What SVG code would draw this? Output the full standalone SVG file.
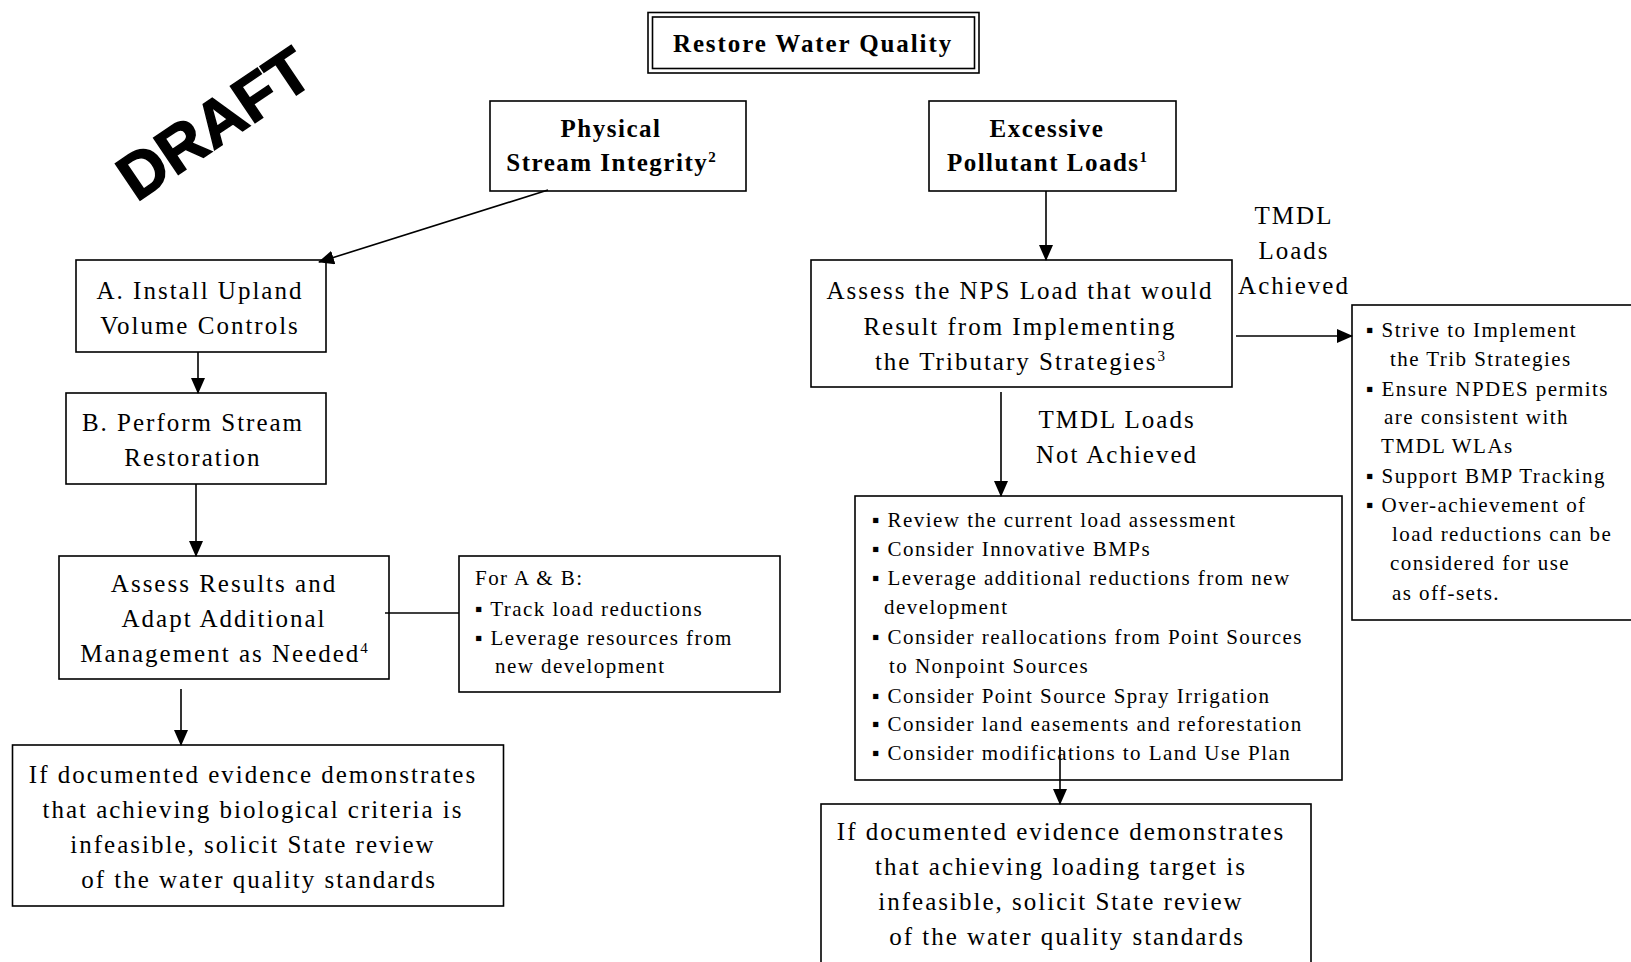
<svg xmlns="http://www.w3.org/2000/svg" width="1631" height="962" viewBox="0 0 1631 962">
<style>
.box{fill:#fff;stroke:#000;stroke-width:1.6}
.t{font-family:"Liberation Serif","Times New Roman",serif;font-size:25px;letter-spacing:2px;fill:#000;text-anchor:middle}
.b{font-family:"Liberation Serif","Times New Roman",serif;font-size:25px;letter-spacing:1.5px;font-weight:bold;fill:#000;text-anchor:middle}
.bt{letter-spacing:1.9px}
.l{font-family:"Liberation Serif","Times New Roman",serif;font-size:21px;letter-spacing:1.45px;fill:#000}
.c{stroke:#000;stroke-width:1.6;fill:none}
.sup{font-size:15px;letter-spacing:0}
</style>
<defs>
<marker id="ah" viewBox="0 0 16 14" refX="15" refY="7" markerWidth="16" markerHeight="14" markerUnits="userSpaceOnUse" orient="auto">
<path d="M0,0 L16,7 L0,14 Z" fill="#000"/>
</marker>
</defs>
<rect width="1631" height="962" fill="#fff"/>
<text x="213" y="146" transform="rotate(-34 213 122)" font-family="Liberation Sans, Arial, sans-serif" font-weight="bold" font-size="64" text-anchor="middle" fill="#000" stroke="#000" stroke-width="1.5">DRAFT</text>

<g id="title">
<rect class="box" x="648" y="12.5" width="331" height="60.5"/>
<rect class="box" x="652.5" y="17" width="322" height="51.5"/>
<text class="b bt" x="813" y="52">Restore Water Quality</text>
</g>

<g id="physical">
<rect class="box" x="490" y="101" width="256" height="90"/>
<text class="b" x="611" y="137">Physical</text>
<text class="b" x="611" y="171">Stream Integrity<tspan class="sup" dy="-9">2</tspan></text>
</g>

<g id="excessive">
<rect class="box" x="929" y="101" width="247" height="90"/>
<text class="b" x="1047" y="137">Excessive</text>
<text class="b" x="1047" y="171">Pollutant Loads<tspan class="sup" dy="-9">1</tspan></text>
</g>

<g id="nodeA">
<rect class="box" x="76" y="260" width="250" height="92"/>
<text class="t" x="200" y="299">A. Install Upland</text>
<text class="t" x="200" y="334">Volume Controls</text>
</g>

<g id="nodeB">
<rect class="box" x="66" y="393" width="260" height="91"/>
<text class="t" x="193" y="431">B. Perform Stream</text>
<text class="t" x="193" y="466">Restoration</text>
</g>

<g id="assessResults">
<rect class="box" x="59" y="556" width="330" height="123"/>
<text class="t" x="224" y="592">Assess Results and</text>
<text class="t" x="224" y="627">Adapt Additional</text>
<text class="t" x="224" y="662">Management as Needed<tspan class="sup" dy="-9">4</tspan></text>
</g>

<g id="forAB">
<rect class="box" x="459" y="556" width="321" height="136"/>
<text class="l" x="475" y="585">For A &amp; B:</text>
<text class="l" x="475" y="616">▪ Track load reductions</text>
<text class="l" x="475" y="645">▪ Leverage resources from</text>
<text class="l" x="495" y="673">new development</text>
</g>

<g id="bottomLeft">
<rect class="box" x="12.5" y="745" width="491" height="161"/>
<text class="t" x="253" y="783">If documented evidence demonstrates</text>
<text class="t" x="253" y="818">that achieving biological criteria is</text>
<text class="t" x="253" y="853">infeasible, solicit State review</text>
<text class="t" x="259" y="888">of the water quality standards</text>
</g>

<g id="assessNPS">
<rect class="box" x="811" y="260" width="421" height="127"/>
<text class="t" x="1020" y="299">Assess the NPS Load that would</text>
<text class="t" x="1020" y="335">Result from Implementing</text>
<text class="t" x="1020" y="370">the Tributary Strategies<tspan class="sup" dy="-9">3</tspan></text>
</g>

<g id="labelAchieved">
<text class="t" x="1294" y="224">TMDL</text>
<text class="t" x="1294" y="259">Loads</text>
<text class="t" x="1294" y="294">Achieved</text>
</g>

<g id="labelNotAchieved">
<text class="t" x="1117" y="428">TMDL Loads</text>
<text class="t" x="1117" y="463">Not Achieved</text>
</g>

<g id="achievedList">
<rect class="box" x="1352" y="305" width="285" height="315"/>
<text class="l" x="1366" y="337">▪ Strive to Implement</text>
<text class="l" x="1390" y="366">the Trib Strategies</text>
<text class="l" x="1366" y="396">▪ Ensure NPDES permits</text>
<text class="l" x="1384" y="424">are consistent with</text>
<text class="l" x="1381" y="453">TMDL WLAs</text>
<text class="l" x="1366" y="483">▪ Support BMP Tracking</text>
<text class="l" x="1366" y="512">▪ Over-achievement of</text>
<text class="l" x="1392" y="541">load reductions can be</text>
<text class="l" x="1390" y="570">considered for use</text>
<text class="l" x="1392" y="600">as off-sets.</text>
</g>

<g id="notAchievedList">
<rect class="box" x="855" y="496" width="487" height="284"/>
<text class="l" x="872" y="527">▪ Review the current load assessment</text>
<text class="l" x="872" y="556">▪ Consider Innovative BMPs</text>
<text class="l" x="872" y="585">▪ Leverage additional reductions from new</text>
<text class="l" x="884" y="614">development</text>
<text class="l" x="872" y="644">▪ Consider reallocations from Point Sources</text>
<text class="l" x="889" y="673">to Nonpoint Sources</text>
<text class="l" x="872" y="703">▪ Consider Point Source Spray Irrigation</text>
<text class="l" x="872" y="731">▪ Consider land easements and reforestation</text>
<text class="l" x="872" y="760">▪ Consider modifications to Land Use Plan</text>
</g>

<g id="bottomRight">
<rect class="box" x="821" y="804" width="490" height="170"/>
<text class="t" x="1061" y="840">If documented evidence demonstrates</text>
<text class="t" x="1061" y="875">that achieving loading target is</text>
<text class="t" x="1061" y="910">infeasible, solicit State review</text>
<text class="t" x="1067" y="945">of the water quality standards</text>
</g>

<g id="connectors">
<line class="c" x1="548" y1="190" x2="319" y2="262" marker-end="url(#ah)"/>
<line class="c" x1="198" y1="352" x2="198" y2="393" marker-end="url(#ah)"/>
<line class="c" x1="196" y1="484" x2="196" y2="556" marker-end="url(#ah)"/>
<line class="c" x1="385" y1="613" x2="459" y2="613"/>
<line class="c" x1="181" y1="689" x2="181" y2="745" marker-end="url(#ah)"/>
<line class="c" x1="1046" y1="191" x2="1046" y2="260" marker-end="url(#ah)"/>
<line class="c" x1="1236" y1="336" x2="1352" y2="336" marker-end="url(#ah)"/>
<line class="c" x1="1001" y1="392" x2="1001" y2="496" marker-end="url(#ah)"/>
<line class="c" x1="1060" y1="747" x2="1060" y2="804" marker-end="url(#ah)"/>
</g>
</svg>
